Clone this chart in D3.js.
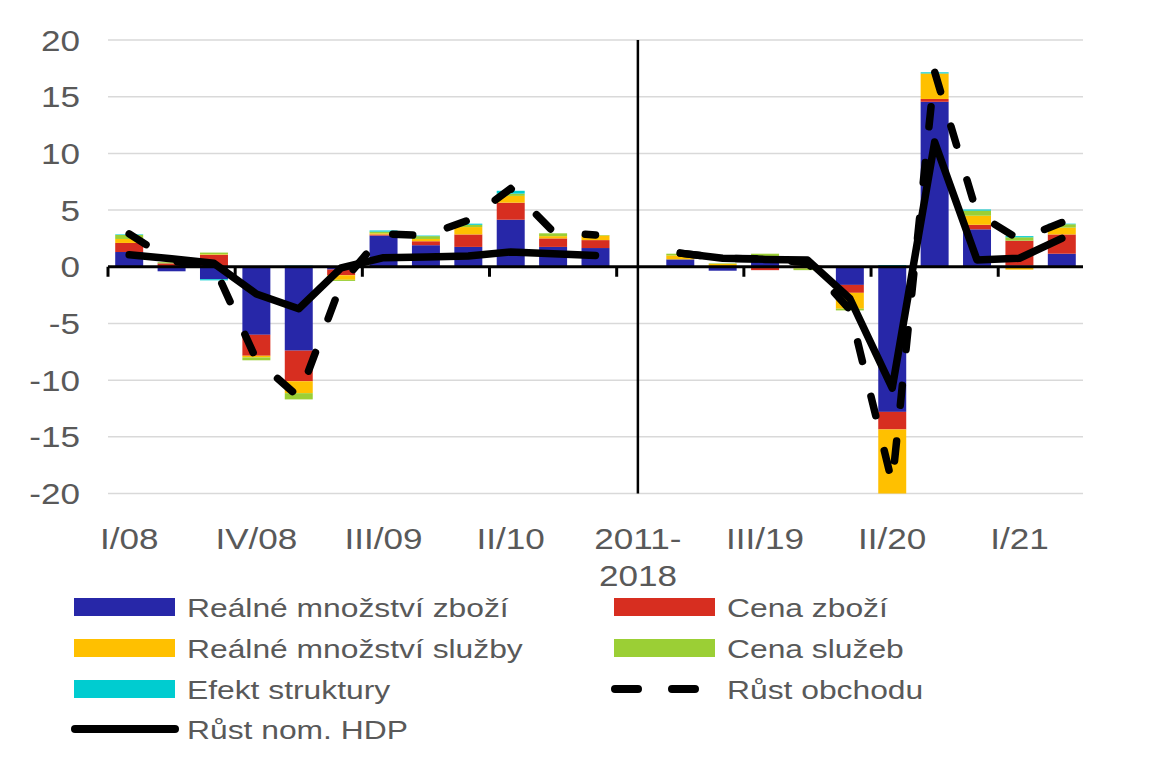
<!DOCTYPE html>
<html><head><meta charset="utf-8">
<script src="https://cdn.jsdelivr.net/npm/d3@7"></script>
<style>html,body{margin:0;padding:0;background:#fff;}svg{display:block;}</style>
</head><body>
<svg id="c" width="1164" height="769"></svg>
<script>
const categories = ["I/08","II/08","III/08","IV/08","I/09","II/09","III/09","IV/09","I/10","II/10","III/10","IV/10","2011-2018","I/19","II/19","III/19","IV/19","I/20","II/20","III/20","IV/20","I/21","II/21"];
const tickLabels = ["I/08","IV/08","III/09","II/10","2011-2018","III/19","II/20","I/21"];
const yTicks = [-20,-15,-10,-5,0,5,10,15,20];

const realGoods     = [1.3,-0.4,-1.1,-6.0,-7.4,-0.25,2.75,1.9,1.75,4.15,1.75,1.65,null,0.65,-0.35,0.8,0,-1.6,-12.8,14.55,3.3,0.1,1.15];
const priceGoods    = [0.8,0.3,1.05,-1.85,-2.7,-0.5,0.1,0.35,1.1,1.5,0.75,0.7,null,0,0,-0.3,0.1,-0.7,-1.55,0.25,0.4,2.2,1.7];
const realServices  = [0.35,0,0.05,-0.15,-1.05,-0.4,0.1,0.2,0.65,0.6,0.2,0.4,null,0.35,0.25,0.15,-0.15,-1.4,-5.65,2.25,0.8,-0.25,0.6];
const priceServices = [0.35,0.1,0.15,-0.25,-0.55,-0.1,0.15,0.25,0.2,0.2,0.25,0.05,null,0.15,0.05,0.2,-0.15,-0.15,0,0,0.45,0.3,0.3];
const structure     = [0.05,0,-0.1,0,0.1,0,0.1,0.05,0.1,0.25,0,0,null,0,0,0,0,0,0.15,0.1,0.1,0.1,0.05];
const tradeGrowth   = [2.9,0.5,0.05,-8.2,-11.5,-1.5,2.9,2.75,4.1,6.9,3.1,2.8,null,1.2,0.75,0.7,0.35,-3.8,-19.1,17.2,4.7,2.4,3.9];
const gdpGrowth     = [1.05,0.7,0.3,-2.4,-3.7,-0.1,0.8,0.85,0.95,1.3,1.15,1.0,null,1.2,0.75,0.65,0.6,-2.8,-10.7,11.0,0.6,0.75,2.5];

const seriesNames = ["Reálné množství zboží","Cena zboží","Reálné množství služby","Cena služeb","Efekt struktury"];
const seriesColors = ["#2727A8","#D72E20","#FFC000","#9BCF35","#00CCD0"];
const seriesData = [realGoods,priceGoods,realServices,priceServices,structure];
const lineNames = ["Růst obchodu","Růst nom. HDP"];

const svg = d3.select("#c");
const font = "'Liberation Sans', Arial, sans-serif";
const textColor = "#595959";

const x = d3.scaleBand().domain(categories).range([108,1083]).paddingInner(0.34).paddingOuter(0.17);
const y = d3.scaleLinear().domain([-20,20]).range([493.5,40]);
const step = x.step();
const cx = c => x(c) + x.bandwidth()/2;

function label(sel, tx, ty, txt, size, anchor, sx){
  return sel.append("text").attr("transform",`translate(${tx},${ty}) scale(${sx},1)`)
    .attr("text-anchor",anchor).attr("font-family",font).attr("font-size",size)
    .attr("fill",textColor).text(txt);
}

// gridlines
svg.append("g").selectAll("line").data(yTicks.filter(t=>t!==0)).join("line")
  .attr("x1",108).attr("x2",1083).attr("y1",d=>y(d)).attr("y2",d=>y(d))
  .attr("stroke","#d9d9d9").attr("stroke-width",1.5);

// y labels
yTicks.forEach(t=>label(svg,80,y(t)+10.5,String(t),30,"end",1.17));

// stacked bars
const barG = svg.append("g");
categories.forEach((c,i)=>{
  let pos=0, neg=0;
  seriesData.forEach((s,k)=>{
    const v = s[i];
    if(v==null || v===0) return;
    let y0,y1;
    if(v>0){ y0=pos; y1=pos+v; pos=y1; } else { y0=neg; y1=neg+v; neg=y1; }
    barG.append("rect").attr("x",x(c)).attr("width",x.bandwidth())
      .attr("y",y(Math.max(y0,y1))).attr("height",Math.abs(y(y0)-y(y1)))
      .attr("fill",seriesColors[k]);
  });
});

// zero axis
svg.append("line").attr("x1",108).attr("x2",1083).attr("y1",y(0)).attr("y2",y(0))
  .attr("stroke","#000").attr("stroke-width",3);
categories.forEach((c,i)=>{
  if(i%3===0){
    const bx = x(c) - step*0.17;
    svg.append("line").attr("x1",bx).attr("x2",bx).attr("y1",y(0)).attr("y2",y(0)+10)
      .attr("stroke","#000").attr("stroke-width",3);
  }
});
// separator
svg.append("line").attr("x1",cx("2011-2018")).attr("x2",cx("2011-2018")).attr("y1",40).attr("y2",493.5)
  .attr("stroke","#000").attr("stroke-width",2.5);

// lines
const dashPattern = "20,36";
const mk = arr => d3.line().defined(d=>d.v!=null).x(d=>cx(d.c)).y(d=>y(d.v))(categories.map((c,i)=>({c,v:arr[i]})));
svg.append("path").attr("d",mk(tradeGrowth)).attr("fill","none").attr("stroke","#000")
  .attr("stroke-width",7.5).attr("stroke-dasharray",dashPattern).attr("stroke-linecap","round").attr("stroke-linejoin","round");
svg.append("path").attr("d",mk(gdpGrowth)).attr("fill","none").attr("stroke","#000")
  .attr("stroke-width",7.5).attr("stroke-linecap","round").attr("stroke-linejoin","round");

// x labels
tickLabels.forEach(t=>{
  const px = cx(t);
  if(t==="2011-2018"){
    label(svg,px,549,"2011-",30,"middle",1.17);
    label(svg,px,586,"2018",30,"middle",1.17);
  } else label(svg,px,549,t,30,"middle",1.17);
});

// legend
const leg = svg.append("g");
const legItems = [
  {n:seriesNames[0],t:"rect",col:seriesColors[0],x:74,y:607},
  {n:seriesNames[1],t:"rect",col:seriesColors[1],x:614,y:607},
  {n:seriesNames[2],t:"rect",col:seriesColors[2],x:74,y:648},
  {n:seriesNames[3],t:"rect",col:seriesColors[3],x:614,y:648},
  {n:seriesNames[4],t:"rect",col:seriesColors[4],x:74,y:689},
  {n:lineNames[0],t:"dash",x:614,y:689},
  {n:lineNames[1],t:"solid",x:74,y:729}
];
legItems.forEach(d=>{
  if(d.t==="rect"){
    leg.append("rect").attr("x",d.x).attr("y",d.y-9).attr("width",101).attr("height",18).attr("fill",d.col);
  } else if(d.t==="dash"){
    leg.append("line").attr("x1",d.x+1).attr("x2",d.x+100).attr("y1",d.y).attr("y2",d.y)
      .attr("stroke","#000").attr("stroke-width",8).attr("stroke-dasharray","23,34").attr("stroke-linecap","round");
  } else {
    leg.append("line").attr("x1",d.x+1).attr("x2",d.x+101).attr("y1",d.y).attr("y2",d.y)
      .attr("stroke","#000").attr("stroke-width",8).attr("stroke-linecap","round");
  }
  label(leg, d.x<300?187:727, d.y+9.5, d.n, 26.5, "start", 1.2);
});
</script>
</body></html>
